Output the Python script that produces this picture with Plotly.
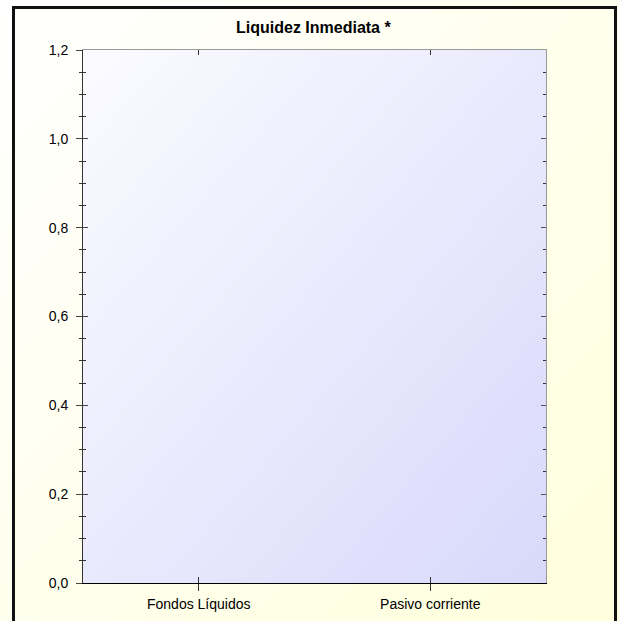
import plotly.graph_objects as go

# ---- data ----
categories = ["Fondos Líquidos", "Pasivo corriente"]
values = [0, 0]
title_text = "Liquidez Inmediata *"
y_range = [0, 1.2]
y_dtick = 0.2
y_minor_dtick = 0.05

W, H = 619, 621
# plot area in pixels
PX0, PX1 = 83, 546
PY_TOP, PY_BOT = 50, 583

xdom = [PX0 / W, PX1 / W]
ydom = [(H - PY_BOT) / H, (H - PY_TOP) / H]

FONT = "Liberation Sans, Arial, sans-serif"

fig = go.Figure()

# background gradients (decoration)
fig.add_trace(go.Heatmap(
    x=[0, 1], y=[0, 1], z=[[1, 2], [0, 1]], zmin=0, zmax=2, zsmooth="best",
    colorscale=[[0, "#ffffff"], [1, "#ffffdc"]], showscale=False, hoverinfo="skip",
    xaxis="x", yaxis="y"))
fig.add_trace(go.Heatmap(
    x=[0, 1], y=[0, 1], z=[[1, 2], [0, 1]], zmin=0, zmax=2, zsmooth="best",
    colorscale=[[0, "#fbfbff"], [1, "#d8d8fb"]], showscale=False, hoverinfo="skip",
    xaxis="x2", yaxis="y2"))

# main bars
fig.add_trace(go.Bar(x=categories, y=values, xaxis="x3", yaxis="y3",
                     marker=dict(color="#4f81bd", line=dict(width=0)),
                     showlegend=False, hoverinfo="skip"))
# invisible helper traces for overlay axes
fig.add_trace(go.Bar(x=categories, y=values, xaxis="x4", yaxis="y4",
                     marker=dict(color="rgba(0,0,0,0)", line=dict(width=0)),
                     showlegend=False, hoverinfo="skip"))
fig.add_trace(go.Bar(x=categories, y=values, xaxis="x5", yaxis="y5",
                     marker=dict(color="rgba(0,0,0,0)", line=dict(width=0)),
                     showlegend=False, hoverinfo="skip"))

hidden = dict(visible=False, range=[0, 1], fixedrange=True, showgrid=False, zeroline=False)

tickfont = dict(family=FONT, size=14, color="#000000")
xcat = dict(type="category", range=[-0.5, 1.5], showgrid=False, zeroline=False, fixedrange=True)
ylin = dict(range=y_range, showgrid=False, zeroline=False, fixedrange=True)

fig.update_layout(
    width=W, height=H,
    margin=dict(l=0, r=0, t=0, b=0),
    paper_bgcolor="#ffffff",
    plot_bgcolor="rgba(0,0,0,0)",
    separators=",.",
    showlegend=False,
    bargap=0.5,
    xaxis=dict(domain=[0, 1], anchor="y", **hidden),
    yaxis=dict(domain=[0, 1], anchor="x", **hidden),
    xaxis2=dict(domain=xdom, anchor="y2", **hidden),
    yaxis2=dict(domain=ydom, anchor="x2", **hidden),
    xaxis3=dict(domain=xdom, anchor="y3", side="bottom", showline=True, linecolor="#000000",
                linewidth=1, ticks="outside", ticklen=7, tickcolor="#333333", tickwidth=1,
                tickfont=tickfont, automargin=False, ticklabelstandoff=1, **xcat),
    yaxis3=dict(domain=ydom, anchor="x3", side="left", showline=True, linecolor="#333333",
                linewidth=1, ticks="outside", ticklen=6, tickcolor="#444444", tickwidth=1,
                dtick=y_dtick, tick0=0, tickformat=".1f", tickfont=tickfont, automargin=False,
                ticklabelstandoff=5,
                minor=dict(dtick=y_minor_dtick, ticks="outside", ticklen=3, tickcolor="#333333"),
                **ylin),
    xaxis4=dict(domain=xdom, anchor="y3", overlaying="x3", side="bottom", showline=False,
                ticks="inside", ticklen=6, tickcolor="#333333", showticklabels=False, **xcat),
    yaxis4=dict(domain=ydom, anchor="x3", overlaying="y3", side="left", showline=False,
                ticks="inside", ticklen=5, tickcolor="#444444", dtick=y_dtick, tick0=0,
                showticklabels=False,
                minor=dict(dtick=y_minor_dtick, ticks="inside", ticklen=3, tickcolor="#333333"),
                **ylin),
    xaxis5=dict(domain=xdom, anchor="y3", overlaying="x3", side="top", showline=True,
                linecolor="#999999", ticks="inside", ticklen=5, tickcolor="#333333",
                showticklabels=False, **xcat),
    yaxis5=dict(domain=ydom, anchor="x3", overlaying="y3", side="right", showline=True,
                linecolor="#999999", ticks="inside", ticklen=5, tickcolor="#555555",
                dtick=y_dtick, tick0=0, showticklabels=False,
                minor=dict(dtick=y_minor_dtick, ticks="inside", ticklen=3, tickcolor="#333333"),
                **ylin),
    annotations=[dict(text="<b>" + title_text + "</b>", xref="paper", yref="paper",
                      x=313 / W, y=1 - 28 / H, xanchor="center", yanchor="middle",
                      showarrow=False, font=dict(family=FONT, size=16, color="#000000"))],
    shapes=[dict(type="rect", xref="paper", yref="paper",
                 x0=13.5 / W, x1=615.5 / W, y0=-20 / H, y1=1 - 7.5 / H,
                 line=dict(color="#111111", width=3), fillcolor="rgba(0,0,0,0)", layer="above")],
)

fig.write_html("out.html", config={"displayModeBar": False},
               post_script="document.body.style.margin='0';document.body.style.overflow='hidden';")
